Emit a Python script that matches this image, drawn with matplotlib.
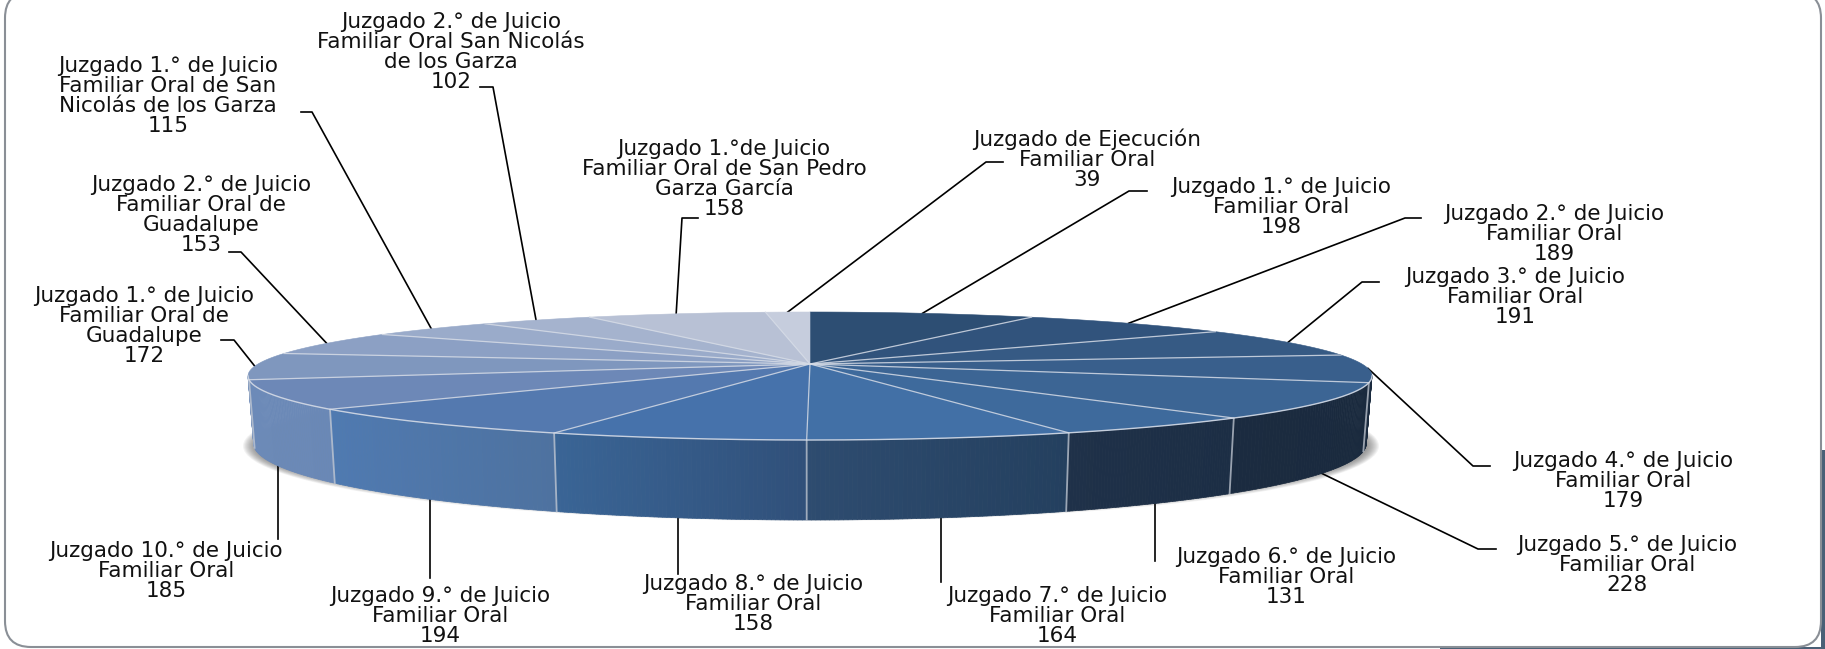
#!/usr/bin/env python
# -*- coding: utf-8 -*-
"""Pie 3D de juzgados familiares, con perspectiva."""
import numpy as np
import matplotlib
matplotlib.use('Agg')
import matplotlib.pyplot as plt
from matplotlib.patches import FancyBboxPatch, Ellipse, Polygon
from matplotlib.collections import PolyCollection

# --- Datos (desde las 12 en sentido horario) ---
names = [
    'Juzgado 1.° de Juicio\nFamiliar Oral',
    'Juzgado 2.° de Juicio\nFamiliar Oral',
    'Juzgado 3.° de Juicio\nFamiliar Oral',
    'Juzgado 4.° de Juicio\nFamiliar Oral',
    'Juzgado 5.° de Juicio\nFamiliar Oral',
    'Juzgado 6.° de Juicio\nFamiliar Oral',
    'Juzgado 7.° de Juicio\nFamiliar Oral',
    'Juzgado 8.° de Juicio\nFamiliar Oral',
    'Juzgado 9.° de Juicio\nFamiliar Oral',
    'Juzgado 10.° de Juicio\nFamiliar Oral',
    'Juzgado 1.° de Juicio\nFamiliar Oral de\nGuadalupe',
    'Juzgado 2.° de Juicio\nFamiliar Oral de\nGuadalupe',
    'Juzgado 1.° de Juicio\nFamiliar Oral de San\nNicolás de los Garza',
    'Juzgado 2.° de Juicio\nFamiliar Oral San Nicolás\nde los Garza',
    'Juzgado 1.°de Juicio\nFamiliar Oral de San Pedro\nGarza García',
    'Juzgado de Ejecución\nFamiliar Oral',
]
values = [198, 189, 191, 179, 228, 131, 164, 158, 194, 185, 172, 153, 115, 102, 158, 39]

top_colors = ['#2D4E73', '#31537C', '#365A84', '#395F8C', '#3C6594', '#3E6A9C', '#4270A6', '#4672AB',
              '#5479AF', '#6D88B7', '#7F97BE', '#8CA0C4', '#9AABCA', '#A5B3CE', '#B8C1D5', '#C6CDDD']
wall_left = ['#1A2A3E', '#1A2A3E', '#1A2A3E', '#1A2A3E', '#1B2B40', '#1F3149', '#2E4C70', '#3A6596',
             '#4F7AB1', '#6C8AB8', '#6C8AB8', '#6C8AB8', '#6C8AB8', '#6C8AB8', '#6C8AB8', '#6C8AB8']
wall_right = ['#1A2A3E', '#1A2A3E', '#1A2A3E', '#1A2A3E', '#1A2A3E', '#1C2E45', '#24405F', '#30507A',
              '#4E72A0', '#6A88B6', '#6A88B6', '#6A88B6', '#6A88B6', '#6A88B6', '#6A88B6', '#6A88B6']

# --- Maqueta: centro del rotulo, codo y fin de la guia (None = vertical), ancla ---
label_pos = [(1281, 207, 1129, 191, 1147, 'top'), (1554, 234, 1405, 218, 1421, 'top'),
             (1515, 297, 1362, 282, 1379, 'top'), (1623, 481, 1473, 466, 1490, 'top'),
             (1627, 565, 1478, 549, 1496, 'wall'), (1286, 577, None, 561, None, 'wall'),
             (1057, 616, None, 582, None, 'wall'), (753, 604, None, 574, None, 'wall'),
             (440, 616, None, 578, None, 'wall'), (166, 571, None, 539, None, 'wall'),
             (144, 326, 234, 340, 221, 'top'), (201, 215, 241, 252, 229, 'top'),
             (168, 96, 312, 112, 301, 'top'), (451, 52, 493, 87, 480, 'top'),
             (724, 179, 682, 218, 698, 'top'), (1087, 159, 986, 162, 1003, 'top')]

# --- Geometria ---
CX, CY = 810, 364
SX, SY = 552, 61.75
PERSP = 0.1875
DEPTH = 65
LINE_W = '#D5DBE6'


def project(theta, wall=False):
    """Angulo del pie (radianes, horario desde las 12) a pixeles."""
    u, v = np.sin(theta), np.cos(theta)
    w = 1 + PERSP * v
    x = CX + SX * u / w
    y = CY - SY * v / w
    if wall:
        x = CX + (x - CX) * 0.99
        y = y + DEPTH / w
    return x, y


def rim(a0, a1, wall=False):
    t = np.linspace(a0, a1, max(2, int((a1 - a0) * 120)))
    x, y = project(t, wall)
    return np.column_stack([x, y])


def lerp_color(c0, c1, f):
    return (1 - f) * np.array(matplotlib.colors.to_rgb(c0)) + f * np.array(matplotlib.colors.to_rgb(c1))


def main():
    fig = plt.figure(figsize=(18.25, 6.49), dpi=100)
    ax = fig.add_axes([0, 0, 1, 1])
    ax.set_xlim(0, 1825)
    ax.set_ylim(649, 0)
    ax.axis('off')

    # fondo oscuro abajo a la derecha y marco redondeado
    ax.fill([1821, 1825, 1825, 1440, 1440, 1821], [450, 450, 649, 649, 647, 647], color='#4A6076', lw=0, zorder=0.5)
    ax.add_patch(FancyBboxPatch((5, -8), 1816, 655, boxstyle='round,pad=0,rounding_size=26',
                                fc='white', ec='#8A8F96', lw=1.5, zorder=1))

    # sombra
    for k in range(12):
        ax.add_patch(Ellipse((811, 446), 1136 - 2.2 * k, 150 - 1.6 * k, fc='#555555', ec='none',
                             alpha=0.07, zorder=2))

    edges = np.radians(np.cumsum([0] + values) / sum(values) * 360)

    # paredes
    polys, cols = [], []
    for i in range(len(values)):
        a0, a1 = edges[i], edges[i + 1]
        t = np.linspace(a0, a1, 60)
        xs, ys = project(t)
        xb, yb = project(t, wall=True)
        for j in range(59):
            # solo la parte delantera
            if np.cos(t[j]) > -PERSP and np.cos(t[j + 1]) > -PERSP:
                continue
            polys.append([(xs[j], ys[j]), (xs[j + 1], ys[j + 1]), (xb[j + 1], yb[j + 1]), (xb[j], yb[j])])
            cols.append(lerp_color(wall_left[i], wall_right[i], (xs[j] - xs.min()) / (xs.max() - xs.min())))
    ax.add_collection(PolyCollection(polys, facecolors=cols, edgecolors=cols, linewidths=0.5, zorder=3))

    # separadores de pared
    for a in edges:
        if np.cos(a) < -PERSP:
            xs, ys = project(a)
            xb, yb = project(a, wall=True)
            ax.plot([xs, xb], [ys, yb], color='#C4CAD4', lw=1.3, alpha=0.75, zorder=4)

    # cara superior
    for i in range(len(values)):
        pts = np.vstack([[CX, CY], rim(edges[i], edges[i + 1])])
        ax.add_patch(Polygon(pts, closed=True, fc=top_colors[i], ec=top_colors[i], lw=0.4, zorder=5))
    for a in edges[1:-1]:
        xs, ys = project(a)
        ax.plot([CX, xs], [CY, ys], color=LINE_W, lw=0.9, alpha=0.85, zorder=6)
    a_front = np.arccos(-PERSP)
    front = rim(a_front, 2 * np.pi - a_front)
    ax.plot(front[:, 0], front[:, 1], color=LINE_W, lw=1.0, alpha=0.9, zorder=6)

    # guias y rotulos
    cum = np.cumsum([0] + values)
    for i, (name, val) in enumerate(zip(names, values)):
        lx, ly, ex, ey, tick, kind = label_pos[i]
        mid = np.radians((cum[i] + cum[i + 1]) / 2 / sum(values) * 360)
        px, py = project(mid, wall=(kind == 'wall'))
        ex = px if ex is None else ex
        xs = [px, ex] + ([] if tick is None else [tick])
        ys = [py, ey] + ([] if tick is None else [ey])
        ax.plot(xs, ys, color='black', lw=1.2, zorder=2.5)
        ax.text(lx, ly, f'{name}\n{val}', ha='center', va='center', fontsize=15.5, color='#111111',
                linespacing=1.0, zorder=7)

    fig.savefig('out.png', dpi=100)
    plt.close(fig)


if __name__ == '__main__':
    main()
